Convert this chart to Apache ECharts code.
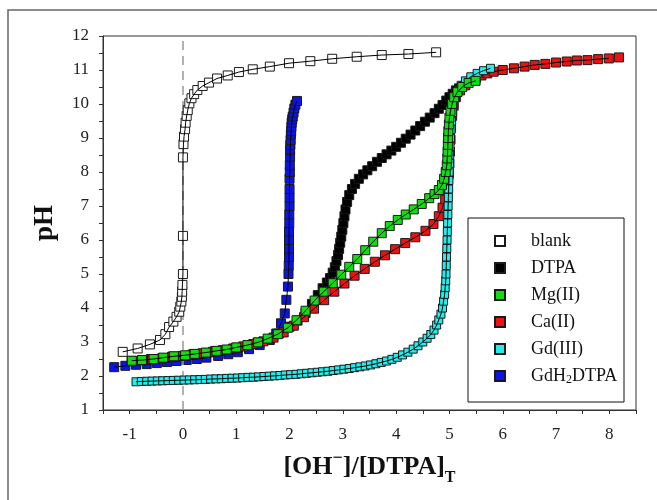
<!DOCTYPE html>
<html>
<head>
<meta charset="utf-8">
<script src="https://cdn.jsdelivr.net/npm/echarts@6/dist/echarts.min.js"></script>
<style>
  html, body { margin: 0; padding: 0; background: #fff; }
  #chart { width: 657px; height: 500px; }
</style>
</head>
<body>
<div id="chart"></div>
<script>
// 图例名称
const names = ['blank', 'DTPA', 'Mg(II)', 'Ca(II)', 'Gd(III)', 'GdH2DTPA'];

// blank
const blankX = [-1.13, -0.85, -0.62, -0.43, -0.33, -0.26, -0.18, -0.12, -0.07, -0.05, -0.03, -0.02, -0.015, -0.01, 0, 0, 0, 0.01, 0.02, 0.04, 0.05, 0.07, 0.09, 0.12, 0.16, 0.21, 0.27, 0.37, 0.49, 0.64, 0.84, 1.05, 1.31, 1.63, 1.99, 2.39, 2.80, 3.26, 3.73, 4.23, 4.75];
const blankPH = [2.71, 2.81, 2.93, 3.06, 3.23, 3.44, 3.60, 3.74, 3.89, 4.04, 4.19, 4.33, 4.48, 4.68, 5.0, 6.12, 8.43, 8.82, 9.04, 9.26, 9.45, 9.65, 9.82, 10.02, 10.17, 10.29, 10.41, 10.53, 10.63, 10.75, 10.84, 10.94, 11.02, 11.10, 11.20, 11.26, 11.33, 11.39, 11.44, 11.47, 11.52];

// DTPA
const dtpaX = [-0.96, -0.6, -0.2, 0.2, 0.6, 1.0, 1.4, 1.8, 2.0, 2.15, 2.3, 2.42, 2.53, 2.62, 2.7, 2.76, 2.81, 2.85, 2.88, 2.91, 2.93, 2.95, 2.97, 2.99, 3.01, 3.03, 3.05, 3.08, 3.12, 3.17, 3.23, 3.30, 3.38, 3.46, 3.55, 3.64, 3.73, 3.82, 3.91, 4.0, 4.09, 4.18, 4.27, 4.36, 4.45, 4.54, 4.63, 4.72, 4.8, 4.87, 4.94, 5.0, 5.06, 5.12, 5.18];
const dtpaPH = [2.44, 2.5, 2.57, 2.64, 2.73, 2.83, 2.98, 3.25, 3.45, 3.63, 3.85, 4.12, 4.38, 4.58, 4.75, 4.88, 5.04, 5.2, 5.38, 5.56, 5.74, 5.92, 6.1, 6.3, 6.5, 6.7, 6.9, 7.12, 7.32, 7.5, 7.65, 7.8, 7.93, 8.05, 8.17, 8.3, 8.41, 8.52, 8.63, 8.74, 8.86, 8.98, 9.1, 9.22, 9.35, 9.48, 9.6, 9.73, 9.86, 9.97, 10.1, 10.2, 10.3, 10.4, 10.46];

// Mg(II)
const mgX = [-0.96, -0.77, -0.55, -0.37, -0.17, 0.04, 0.22, 0.43, 0.63, 0.82, 1.00, 1.21, 1.41, 1.59, 1.78, 1.97, 2.13, 2.30, 2.47, 2.64, 2.81, 2.97, 3.12, 3.27, 3.42, 3.57, 3.73, 3.88, 4.03, 4.18, 4.33, 4.48, 4.62, 4.72, 4.80, 4.86, 4.90, 4.93, 4.95, 4.96, 4.965, 4.97, 4.975, 4.98, 4.99, 5.0, 5.02, 5.05, 5.09, 5.15, 5.24, 5.36, 5.49];
const mgPH = [2.45, 2.47, 2.50, 2.54, 2.58, 2.61, 2.65, 2.69, 2.74, 2.78, 2.84, 2.91, 2.99, 3.10, 3.23, 3.42, 3.64, 3.92, 4.22, 4.48, 4.73, 4.98, 5.21, 5.44, 5.70, 5.95, 6.20, 6.41, 6.59, 6.75, 6.90, 7.06, 7.23, 7.35, 7.47, 7.62, 7.80, 8.00, 8.2, 8.4, 8.6, 8.8, 9.0, 9.2, 9.4, 9.6, 9.8, 10.0, 10.2, 10.35, 10.5, 10.62, 10.68];

// Ca(II)
const caX = [-0.96, -0.77, -0.58, -0.39, -0.20, -0.01, 0.18, 0.37, 0.56, 0.75, 0.94, 1.13, 1.32, 1.51, 1.70, 1.89, 2.08, 2.27, 2.46, 2.65, 2.84, 3.03, 3.22, 3.41, 3.60, 3.79, 3.98, 4.17, 4.36, 4.55, 4.70, 4.80, 4.87, 4.92, 4.95, 4.97, 4.99, 5.00, 5.01, 5.02, 5.03, 5.05, 5.08, 5.12, 5.20, 5.30, 5.40, 5.50, 5.60, 5.71, 5.83, 6.00, 6.21, 6.41, 6.60, 6.80, 7.00, 7.20, 7.39, 7.59, 7.79, 7.99, 8.18];
const caPH = [2.43, 2.46, 2.49, 2.52, 2.56, 2.59, 2.63, 2.67, 2.71, 2.76, 2.81, 2.87, 2.94, 3.02, 3.13, 3.28, 3.48, 3.73, 3.98, 4.23, 4.48, 4.72, 4.95, 5.15, 5.36, 5.55, 5.73, 5.91, 6.08, 6.27, 6.47, 6.70, 6.95, 7.20, 7.45, 7.70, 7.95, 8.25, 8.6, 8.95, 9.3, 9.65, 9.95, 10.2, 10.4, 10.55, 10.68, 10.77, 10.84, 10.9, 10.95, 11.0, 11.05, 11.10, 11.15, 11.18, 11.22, 11.25, 11.28, 11.29, 11.32, 11.34, 11.37];

// Gd(III)
const gdX = [-0.88, -0.78, -0.68, -0.58, -0.48, -0.38, -0.28, -0.18, -0.08, 0.02,
  0.12, 0.22, 0.32, 0.42, 0.52, 0.62, 0.72, 0.82, 0.92, 1.02,
  1.12, 1.22, 1.32, 1.42, 1.52, 1.62, 1.72, 1.82, 1.92, 2.02,
  2.12, 2.22, 2.32, 2.42, 2.52, 2.62, 2.72, 2.82, 2.92, 3.02,
  3.12, 3.22, 3.32, 3.42, 3.52, 3.62, 3.72, 3.82, 3.92, 4.02,
  4.12, 4.22, 4.32, 4.41, 4.50, 4.58, 4.65, 4.71, 4.76, 4.80,
  4.84, 4.87, 4.89, 4.91, 4.92, 4.93, 4.935, 4.94, 4.945, 4.95,
  4.955, 4.96, 4.965, 4.97, 4.975, 4.98, 4.985, 4.99, 4.995, 5.0,
  5.005, 5.01, 5.02, 5.03, 5.04, 5.06, 5.08, 5.11, 5.16, 5.22,
  5.30, 5.40, 5.52, 5.64, 5.77];
const gdPH = [1.83, 1.84, 1.845, 1.85, 1.855, 1.86, 1.865, 1.87, 1.875, 1.88,
  1.885, 1.89, 1.895, 1.90, 1.91, 1.915, 1.92, 1.93, 1.935, 1.94,
  1.95, 1.96, 1.965, 1.975, 1.985, 1.995, 2.005, 2.015, 2.03, 2.04,
  2.05, 2.065, 2.08, 2.095, 2.11, 2.125, 2.14, 2.16, 2.18, 2.20,
  2.22, 2.245, 2.27, 2.295, 2.325, 2.36, 2.40, 2.44, 2.49, 2.55,
  2.62, 2.70, 2.79, 2.89, 3.00, 3.11, 3.22, 3.35, 3.50, 3.65,
  3.82, 4.00, 4.20, 4.40, 4.60, 4.80, 5.0, 5.25, 5.5, 5.75,
  6.0, 6.25, 6.5, 6.75, 7.0, 7.25, 7.5, 7.75, 8.0, 8.25,
  8.5, 8.75, 9.0, 9.25, 9.5, 9.75, 10.0, 10.2, 10.4, 10.55,
  10.68, 10.8, 10.9, 10.98, 11.05];

// GdH2DTPA
const gdhX = [-1.29, -1.08, -0.88, -0.68, -0.49, -0.30, -0.12, 0.07, 0.26, 0.44, 0.66, 0.85, 1.03, 1.24, 1.44, 1.63, 1.75, 1.84, 1.91, 1.94, 1.97, 1.98, 1.985, 1.99, 1.99, 1.99, 1.99, 1.995, 1.995, 2.0, 2.0, 2.0, 2.0, 2.005, 2.005, 2.01, 2.01, 2.015, 2.02, 2.025, 2.03, 2.035, 2.04, 2.05, 2.06, 2.075, 2.09, 2.11, 2.14];
const gdhPH = [2.26, 2.30, 2.33, 2.35, 2.38, 2.41, 2.44, 2.47, 2.50, 2.54, 2.59, 2.64, 2.70, 2.79, 2.91, 3.06, 3.25, 3.55, 3.84, 4.24, 4.63, 5.0, 5.25, 5.5, 5.75, 6.0, 6.25, 6.5, 6.75, 7.0, 7.25, 7.5, 7.8, 8.0, 8.2, 8.45, 8.65, 8.8, 8.94, 9.1, 9.2, 9.33, 9.45, 9.55, 9.63, 9.75, 9.87, 9.98, 10.09];

const FONT = 'Liberation Serif';
const zip = (xs, ys) => xs.map((x, i) => [x, ys[i]]);

// 数据点（方块）
function markers(name, xs, ys, color, size, z) {
  return {
    name: name,
    type: 'scatter',
    data: zip(xs, ys),
    symbol: 'rect',
    symbolSize: size,
    z: z,
    itemStyle: { color: color, borderColor: '#1a1a1a', borderWidth: 1, opacity: 1 },
    emphasis: { disabled: true }
  };
}

// 拟合曲线（黑线）
function fit(xs, ys, z) {
  return {
    type: 'line',
    data: zip(xs, ys),
    showSymbol: false,
    symbol: 'none',
    z: z,
    silent: true,
    lineStyle: { color: '#000', width: 1 },
    emphasis: { disabled: true }
  };
}

const chart = echarts.init(document.getElementById('chart'));

const intLabel = v => (Math.abs(v - Math.round(v)) < 1e-9 ? String(Math.round(v)) : '');

const blankFit = fit(blankX, blankPH, 14);
blankFit.markLine = {
  symbol: ['none', 'none'],
  silent: true,
  label: { show: false },
  lineStyle: { color: '#999', width: 1.5, type: [9, 6] },
  data: [{ xAxis: 0 }]
};

const option = {
  animation: false,
  backgroundColor: '#fff',
  grid: {
    left: 103, right: 21, top: 36, bottom: 90,
    show: true, borderColor: '#333', borderWidth: 1,
    outerBoundsMode: 'none'
  },
  xAxis: {
    type: 'value',
    min: -1.5, max: 8.5, interval: 0.5,
    name: '{b|[OH}{sup|−}{b|]/[DTPA]}{sub|T}',
    nameLocation: 'middle',
    nameGap: 42,
    nameMoveOverlap: false,
    nameTextStyle: {
      rich: {
        b: { fontFamily: FONT, fontSize: 26, fontWeight: 'bold', color: '#111', lineHeight: 30 },
        sup: { fontFamily: FONT, fontSize: 18, fontWeight: 'bold', color: '#111', lineHeight: 18, padding: [0, 0, 18, 0] },
        sub: { fontFamily: FONT, fontSize: 16, fontWeight: 'bold', color: '#111', lineHeight: 16, padding: [22, 0, 0, 0] }
      }
    },
    axisLine: { onZero: false, lineStyle: { color: '#333', width: 1 } },
    axisTick: { show: true, length: 4, lineStyle: { color: '#333' } },
    axisLabel: { fontFamily: FONT, fontSize: 17, color: '#222', margin: 16, formatter: intLabel, showMinLabel: true, showMaxLabel: true },
    splitLine: { show: false }
  },
  yAxis: {
    type: 'value',
    min: 1, max: 12, interval: 0.5,
    name: 'pH',
    nameLocation: 'middle',
    nameGap: 44,
    nameMoveOverlap: false,
    nameTextStyle: { fontFamily: FONT, fontSize: 27, fontWeight: 'bold', color: '#111' },
    axisLine: { show: true, onZero: false, lineStyle: { color: '#333', width: 1 } },
    axisTick: { show: true, length: 4, lineStyle: { color: '#333' } },
    axisLabel: { fontFamily: FONT, fontSize: 17, color: '#222', margin: 14, formatter: intLabel },
    splitLine: { show: false }
  },
  legend: {
    data: names,
    orient: 'vertical',
    left: 494, top: 231,
    padding: 0,
    itemWidth: 10, itemHeight: 10, itemGap: 7,
    icon: 'rect',
    selectedMode: false,
    z: 20,
    formatter: n => (n === 'GdH2DTPA' ? 'GdH{sub|2}DTPA' : n),
    textStyle: {
      fontFamily: FONT, fontSize: 18, color: '#111', lineHeight: 20,
      padding: [0, 0, 0, 21],
      rich: {
        sub: { fontFamily: FONT, fontSize: 12, color: '#111', lineHeight: 12, padding: [8, 0, 0, 0] }
      }
    }
  },
  graphic: [
    {
      type: 'rect', silent: true, z: 0,
      shape: { x: 8, y: 10, width: 700, height: 600 },
      style: { fill: 'none', stroke: '#666', lineWidth: 1.5 }
    },
    {
      type: 'rect', silent: true, z: 19,
      shape: { x: 468, y: 218, width: 156, height: 184 },
      style: { fill: '#fff', stroke: '#111', lineWidth: 1 }
    }
  ],
  series: [
    markers('GdH2DTPA', gdhX, gdhPH, '#0a14e6', 9, 2),
    fit(gdhX, gdhPH, 3),
    markers('DTPA', dtpaX, dtpaPH, '#000', 9, 4),
    fit(dtpaX, dtpaPH, 5),
    markers('Ca(II)', caX, caPH, '#ee1111', 9, 6),
    fit(caX.slice(0, -1), caPH.slice(0, -1), 7),
    markers('Gd(III)', gdX, gdPH, '#22eeee', 8, 8),
    fit(gdX, gdPH, 9),
    markers('Mg(II)', mgX, mgPH, '#11dd11', 9, 10),
    fit(mgX, mgPH, 11),
    markers('blank', blankX, blankPH, '#fff', 9, 12),
    blankFit
  ]
};

chart.setOption(option);
</script>
</body>
</html>
